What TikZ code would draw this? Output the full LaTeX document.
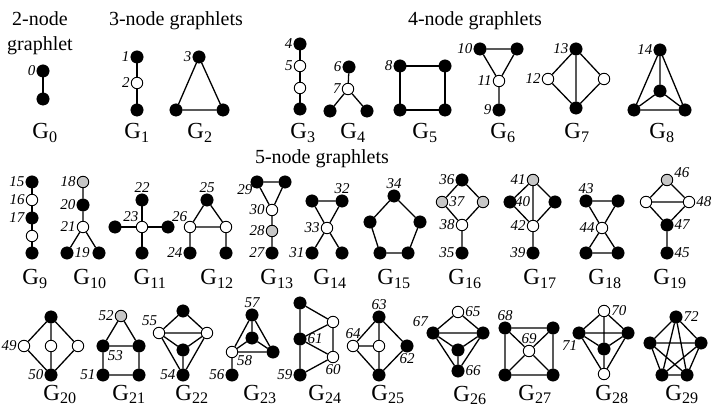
\documentclass[tikz,border=0pt]{standalone}
\usepackage{fontspec}
\setmainfont{Liberation Serif}
\usepackage{tikz}
\usetikzlibrary{positioning}

\begin{document}
\begin{tikzpicture}[x=1pt,y=-1pt,
        blk/.style={circle,fill=black,draw=black,inner sep=0pt,minimum size=12.5pt},
        wht/.style={blk,fill=white,line width=0.9pt,minimum size=11.5pt},
        gry/.style={wht,fill=black!22},
        ln/.style={line width=1.3pt},
        ttl/.style={font=\fontsize{20}{25}\selectfont,align=center,inner sep=0pt},
        gname/.style={anchor=base,font=\fontsize{23}{24}\selectfont,inner sep=0pt},
        every label/.style={font=\fontsize{15}{16}\selectfont\itshape,inner sep=0.5pt},
        label distance=0.5pt
      ]
        \useasboundingbox (0,0) rectangle (720,419);
        % headings
        \node[ttl,anchor=north] (t2) at (40,11) {2-node\\graphlet};
        \node[ttl,anchor=base] (t3) at (176,26) {3-node graphlets};
        \node[ttl,anchor=base] (t4) at (475,26) {4-node graphlets};
        \node[ttl,anchor=base] (t5) at (322,164) {5-node graphlets};

        % G0
        \node[blk,label=left:0] (g0a) at (43,71) {};
        \node[blk] (g0b) at (43,99) {};
        \draw[ln] (g0a) -- (g0b);
        \node[gname] (G0) at (45,139) {G\textsubscript{0}};
        % G1
        \node[blk,label=left:1] (g1a) at (137,57) {};
        \node[wht,label=left:2] (g1b) at (137,83) {};
        \node[blk] (g1c) at (137,110) {};
        \draw[ln] (g1a) -- (g1b) -- (g1c);
        \node[gname] (G1) at (137,139) {G\textsubscript{1}};
        % G2
        \node[blk,label=left:3] (g2a) at (199,57) {};
        \node[blk] (g2b) at (176,110) {};
        \node[blk] (g2c) at (223,110) {};
        \draw[ln] (g2a) -- (g2b) -- (g2c) -- (g2a);
        \node[gname] (G2) at (200,139) {G\textsubscript{2}};
        % G3
        \node[blk,label=left:4] (g3a) at (300,44) {};
        \node[wht,label=left:5] (g3b) at (300,66) {};
        \node[wht] (g3c) at (300,88) {};
        \node[blk] (g3d) at (300,109) {};
        \draw[ln] (g3a) -- (g3b) -- (g3c) -- (g3d);
        \node[gname] (G3) at (303,139) {G\textsubscript{3}};
        % G4
        \node[blk,label=left:6] (g4a) at (349,67) {};
        \node[wht,label=left:7] (g4b) at (348,89) {};
        \node[blk] (g4c) at (330,111) {};
        \node[blk] (g4d) at (367,111) {};
        \draw[ln] (g4a) -- (g4b) -- (g4c) (g4b) -- (g4d);
        \node[gname] (G4) at (353,139) {G\textsubscript{4}};
        % G5
        \node[blk,label=left:8] (g5a) at (400,66) {};
        \node[blk] (g5b) at (445,66) {};
        \node[blk] (g5c) at (445,110) {};
        \node[blk] (g5d) at (400,110) {};
        \draw[ln] (g5a) -- (g5b) -- (g5c) -- (g5d) -- (g5a);
        \node[gname] (G5) at (425,139) {G\textsubscript{5}};
        % G6
        \node[blk,label=left:10] (g6a) at (480,49) {};
        \node[blk] (g6b) at (517,49) {};
        \node[wht,label=left:11] (g6c) at (499,81) {};
        \node[blk,label=left:9] (g6d) at (499,110) {};
        \draw[ln] (g6a) -- (g6b) -- (g6c) -- (g6a) (g6c) -- (g6d);
        \node[gname] (G6) at (503,139) {G\textsubscript{6}};
        % G7
        \node[blk,label=left:13] (g7a) at (576,49) {};
        \node[wht,label=left:12] (g7b) at (548,79) {};
        \node[wht] (g7c) at (604,79) {};
        \node[blk] (g7d) at (576,108) {};
        \draw[ln] (g7a) -- (g7b) -- (g7d) -- (g7c) -- (g7a) -- (g7d);
        \node[gname] (G7) at (577,139) {G\textsubscript{7}};
        % G8
        \node[blk,label=left:14] (g8a) at (660,50) {};
        \node[blk] (g8b) at (660,91) {};
        \node[blk] (g8c) at (634,110) {};
        \node[blk] (g8d) at (685,110) {};
        \draw[ln] (g8a) -- (g8b) (g8a) -- (g8c) -- (g8d) -- (g8a) (g8b) -- (g8c) (g8b) -- (g8d);
        \node[gname] (G8) at (662,139) {G\textsubscript{8}};

        % G9
        \node[blk,label=left:15] (g9a) at (32,182) {};
        \node[wht,label=left:16] (g9b) at (32,200) {};
        \node[blk,label=left:17] (g9c) at (32,218) {};
        \node[wht] (g9d) at (32,236) {};
        \node[blk] (g9e) at (32,253) {};
        \draw[ln] (g9a) -- (g9b) -- (g9c) -- (g9d) -- (g9e);
        \node[gname] (G9) at (35,285) {G\textsubscript{9}};
        % G10
        \node[gry,label=left:18] (g10a) at (83,182) {};
        \node[blk,label=left:20] (g10b) at (83,205) {};
        \node[wht,label=left:21] (g10c) at (83,227) {};
        \node[blk,label=right:19] (g10d) at (67,253) {};
        \node[blk] (g10e) at (99,253) {};
        \draw[ln] (g10a) -- (g10b) -- (g10c) -- (g10d) (g10c) -- (g10e);
        \node[gname] (G10) at (90,285) {G\textsubscript{10}};
        % G11
        \node[wht,label={[label distance=-1pt]125:23}] (g11a) at (142,227) {};
        \node[blk,label=above:22] (g11b) at (142,200) {};
        \node[blk] (g11c) at (115,227) {};
        \node[blk] (g11d) at (168,227) {};
        \node[blk] (g11e) at (142,253) {};
        \draw[ln] (g11a) -- (g11b) (g11a) -- (g11c) (g11a) -- (g11d) (g11a) -- (g11e);
        \node[gname] (G11) at (150,285) {G\textsubscript{11}};
        % G12
        \node[blk,label=above:25] (g12a) at (207,200) {};
        \node[wht,label={[label distance=-1pt]115:26}] (g12b) at (190,227) {};
        \node[wht] (g12c) at (226,227) {};
        \node[blk,label=left:24] (g12d) at (190,253) {};
        \node[blk] (g12e) at (226,253) {};
        \draw[ln] (g12a) -- (g12b) -- (g12c) -- (g12a) (g12b) -- (g12d) (g12c) -- (g12e);
        \node[gname] (G12) at (217,285) {G\textsubscript{12}};
        % G13
        \node[blk,label={[label distance=-2pt]210:29}] (g13a) at (257,182) {};
        \node[blk] (g13b) at (285,182) {};
        \node[wht,label=left:30] (g13c) at (272,210) {};
        \node[gry,label=left:28] (g13d) at (272,231) {};
        \node[blk,label=left:27] (g13e) at (272,253) {};
        \draw[ln] (g13a) -- (g13b) -- (g13c) -- (g13a) (g13c) -- (g13d) -- (g13e);
        \node[gname] (G13) at (277,285) {G\textsubscript{13}};
        % G14
        \node[blk] (g14a) at (312,201) {};
        \node[blk,label=above:32] (g14b) at (342,201) {};
        \node[wht,label=left:33] (g14c) at (327,228) {};
        \node[blk,label=left:31] (g14d) at (312,253) {};
        \node[blk] (g14e) at (342,253) {};
        \draw[ln] (g14a) -- (g14b) -- (g14c) -- (g14a) (g14c) -- (g14d) (g14c) -- (g14e);
        \node[gname] (G14) at (330,285) {G\textsubscript{14}};
        % G15
        \node[blk,label=above:34] (g15a) at (394,196) {};
        \node[blk] (g15b) at (420,222) {};
        \node[blk] (g15c) at (408,253) {};
        \node[blk] (g15d) at (380,253) {};
        \node[blk] (g15e) at (370,222) {};
        \draw[ln] (g15a) -- (g15b) -- (g15c) -- (g15d) -- (g15e) -- (g15a);
        \node[gname] (G15) at (394,285) {G\textsubscript{15}};
        % G16
        \node[blk,label=left:36] (g16a) at (462,180) {};
        \node[gry,label=right:37] (g16b) at (442,202) {};
        \node[gry] (g16c) at (483,202) {};
        \node[wht,label=left:38] (g16d) at (462,225) {};
        \node[blk,label=left:35] (g16e) at (462,253) {};
        \draw[ln] (g16a) -- (g16b) -- (g16d) -- (g16c) -- (g16a) (g16d) -- (g16e);
        \node[gname] (G16) at (465,285) {G\textsubscript{16}};
        % G17
        \node[gry,label=left:41] (g17a) at (533,180) {};
        \node[blk,label={[label distance=-2pt]right:40}] (g17b) at (510,202) {};
        \node[blk] (g17c) at (555,202) {};
        \node[wht,label=left:42] (g17d) at (533,226) {};
        \node[blk,label=left:39] (g17e) at (533,253) {};
        \draw[ln] (g17a) -- (g17b) -- (g17d) -- (g17c) -- (g17a) -- (g17d) -- (g17e);
        \node[gname] (G17) at (540,285) {G\textsubscript{17}};
        % G18
        \node[blk,label=above:43] (g18a) at (586,201) {};
        \node[blk] (g18b) at (618,201) {};
        \node[wht,label=left:44] (g18c) at (602,228) {};
        \node[blk] (g18d) at (586,253) {};
        \node[blk] (g18e) at (618,253) {};
        \draw[ln] (g18a) -- (g18b) -- (g18c) -- (g18a) (g18c) -- (g18d) -- (g18e) -- (g18c);
        \node[gname] (G18) at (605,285) {G\textsubscript{18}};
        % G19
        \node[gry,label=10:46] (g19a) at (667,180) {};
        \node[wht] (g19b) at (646,202) {};
        \node[wht,label=right:48] (g19c) at (689,202) {};
        \node[blk,label=right:47] (g19d) at (667,225) {};
        \node[blk,label=right:45] (g19e) at (667,253) {};
        \draw[ln] (g19a) -- (g19b) -- (g19c) -- (g19a) (g19b) -- (g19d) -- (g19c) (g19d) -- (g19e);
        \node[gname] (G19) at (670,285) {G\textsubscript{19}};

        % G20
        \node[blk] (g20a) at (51,317) {};
        \node[wht,label=left:49] (g20b) at (24,346) {};
        \node[wht] (g20c) at (51,346) {};
        \node[wht] (g20d) at (78,346) {};
        \node[blk,label=left:50] (g20e) at (51,375) {};
        \draw[ln] (g20a) -- (g20b) -- (g20e) -- (g20c) -- (g20a) -- (g20d) -- (g20e);
        \node[gname] (G20) at (60,400) {G\textsubscript{20}};
        % G21
        \node[gry,label=left:52] (g21a) at (121,316) {};
        \node[blk,label={[label distance=-1pt]-40:53}] (g21b) at (103,346) {};
        \node[blk] (g21c) at (139,346) {};
        \node[blk,label=left:51] (g21d) at (103,375) {};
        \node[blk] (g21e) at (139,375) {};
        \draw[ln] (g21a) -- (g21b) -- (g21c) -- (g21a) (g21b) -- (g21d) -- (g21e) -- (g21c);
        \node[gname] (G21) at (129,400) {G\textsubscript{21}};
        % G22
        \node[blk] (g22a) at (183,311) {};
        \node[wht,label=100:55] (g22b) at (159,333) {};
        \node[wht] (g22c) at (207,333) {};
        \node[blk] (g22d) at (183,350) {};
        \node[blk,label=left:54] (g22e) at (183,375) {};
        \draw[ln] (g22a) -- (g22b) -- (g22c) -- (g22a) (g22b) -- (g22d) -- (g22c) -- (g22e) -- (g22b) (g22d) -- (g22e);
        \node[gname] (G22) at (192,400) {G\textsubscript{22}};
        % G23
        \node[blk,label=above:57] (g23a) at (252,315) {};
        \node[blk] (g23b) at (252,338) {};
        \node[wht,label={[label distance=-1pt]-30:58}] (g23c) at (232,352) {};
        \node[blk] (g23d) at (273,352) {};
        \node[blk,label=left:56] (g23e) at (232,375) {};
        \draw[ln] (g23a) -- (g23b) (g23a) -- (g23c) -- (g23d) -- (g23a) (g23b) -- (g23c) (g23b) -- (g23d) (g23c) -- (g23e);
        \node[gname] (G23) at (260,400) {G\textsubscript{23}};
        % G24
        \node[blk] (g24a) at (300,303) {};
        \node[blk,label=right:61] (g24b) at (300,339) {};
        \node[blk,label=left:59] (g24c) at (300,375) {};
        \node[wht] (g24d) at (333,322) {};
        \node[wht,label=below:60] (g24e) at (333,357) {};
        \draw[ln] (g24a) -- (g24b) -- (g24c) -- (g24e) -- (g24d) -- (g24a) (g24b) -- (g24d) (g24b) -- (g24e);
        \node[gname] (G24) at (325,400) {G\textsubscript{24}};
        % G25
        \node[blk,label=above:63] (g25a) at (379,317) {};
        \node[wht,label=above:64] (g25b) at (353,346) {};
        \node[wht] (g25c) at (379,346) {};
        \node[blk,label=below:62] (g25d) at (407,346) {};
        \node[blk] (g25e) at (379,375) {};
        \draw[ln] (g25a) -- (g25b) -- (g25e) -- (g25d) -- (g25a) -- (g25c) -- (g25e) (g25b) -- (g25c);
        \node[gname] (G25) at (388,400) {G\textsubscript{25}};
        % G26
        \node[wht,label=right:65] (g26a) at (458,312) {};
        \node[blk,label=130:67] (g26b) at (433,333) {};
        \node[blk] (g26c) at (483,333) {};
        \node[blk] (g26d) at (458,350) {};
        \node[blk,label=right:66] (g26e) at (458,371) {};
        \draw[ln] (g26a) -- (g26b) -- (g26c) -- (g26a) (g26b) -- (g26d) -- (g26c) -- (g26e) -- (g26b) (g26d) -- (g26e);
        \node[gname] (G26) at (470,401) {G\textsubscript{26}};
        % G27
        \node[blk,label=above:68] (g27a) at (505,328) {};
        \node[blk] (g27b) at (553,328) {};
        \node[wht,label=above:69] (g27c) at (529,351) {};
        \node[blk] (g27d) at (505,375) {};
        \node[blk] (g27e) at (553,375) {};
        \draw[ln] (g27a) -- (g27b) -- (g27e) -- (g27d) -- (g27a) (g27a) -- (g27c) -- (g27e) (g27b) -- (g27c) -- (g27d);
        \node[gname] (G27) at (535,400) {G\textsubscript{27}};
        % G28
        \node[wht,label=right:70] (g28a) at (604,311) {};
        \node[blk,label=-100:71] (g28b) at (579,333) {};
        \node[blk] (g28c) at (628,333) {};
        \node[blk] (g28d) at (604,349) {};
        \node[wht] (g28e) at (604,374) {};
        \draw[ln] (g28a) -- (g28b) -- (g28c) -- (g28a) -- (g28d) (g28b) -- (g28d) -- (g28c) -- (g28e) -- (g28b) (g28d) -- (g28e);
        \node[gname] (G28) at (612,400) {G\textsubscript{28}};
        % G29
        \node[blk,label=right:72] (g29a) at (676,317) {};
        \node[blk] (g29b) at (701,343) {};
        \node[blk] (g29c) at (687,375) {};
        \node[blk] (g29d) at (662,375) {};
        \node[blk] (g29e) at (650,343) {};
        \draw[ln] (g29a) -- (g29b) -- (g29c) -- (g29d) -- (g29e) -- (g29a) -- (g29c) -- (g29e) -- (g29b) -- (g29d) -- (g29a);
        \node[gname] (G29) at (682,400) {G\textsubscript{29}};
      \end{tikzpicture}
\end{document}
